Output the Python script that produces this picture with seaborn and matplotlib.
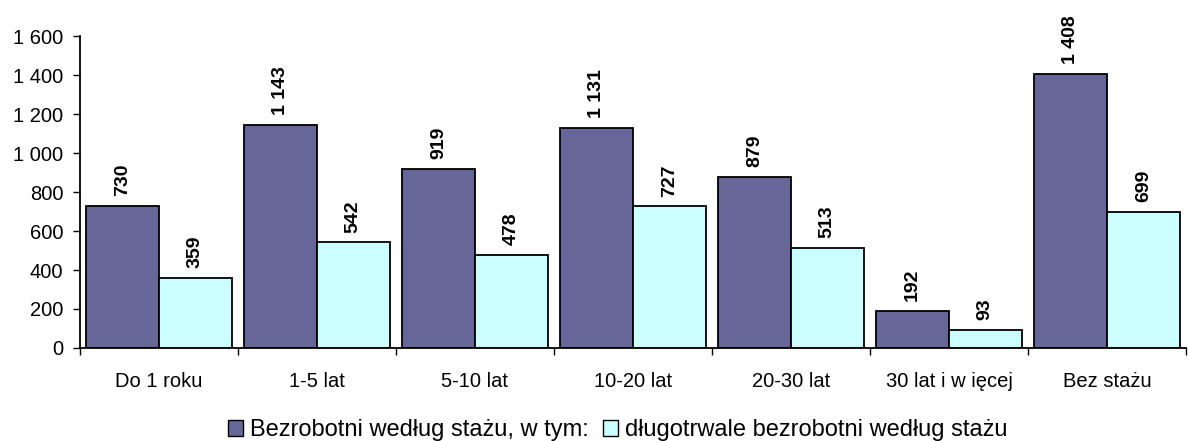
import numpy as np
import pandas as pd
import matplotlib
matplotlib.use("Agg")
import matplotlib.pyplot as plt
from matplotlib.patches import Patch
from matplotlib.ticker import FuncFormatter, FixedLocator
import seaborn as sns

categories = ["Do 1 roku", "1-5 lat", "5-10 lat", "10-20 lat", "20-30 lat", "30 lat i w ięcej", "Bez stażu"]
ogolem = [730, 1143, 919, 1131, 879, 192, 1408]
dlugotrwale = [359, 542, 478, 727, 513, 93, 699]
series_names = ["Bezrobotni według stażu, w tym:", "długotrwale bezrobotni według stażu"]
colors = ["#666699", "#CCFFFF"]

df = pd.DataFrame({
    "staz": categories * 2,
    "liczba": ogolem + dlugotrwale,
    "seria": [series_names[0]] * len(categories) + [series_names[1]] * len(categories),
})

sns.set_style("white")
plt.rcParams['font.family'] = ['Liberation Sans', 'DejaVu Sans']
plt.rcParams['text.color'] = "black"
plt.rcParams['xtick.color'] = "black"
plt.rcParams['ytick.color'] = "black"

fig = plt.figure(figsize=(11.88, 4.41), dpi=100)
ax = fig.add_axes([0.0673, 0.211, 0.931, 0.707])

sns.barplot(data=df, x="staz", y="liczba", hue="seria", palette=colors,
            saturation=1, edgecolor="black", linewidth=1.3, width=0.92, gap=0,
            ax=ax, legend=False)

for cont in ax.containers:
    labels = ["{:,}".format(int(v)).replace(",", " ") for v in cont.datavalues]
    ax.bar_label(cont, labels=labels, rotation=90, padding=7,
                 fontsize=14, fontweight="bold", color="black")

ax.set_ylim(0, 1600)
ax.set_xlim(-0.5, 6.5)
ax.set_yticks(np.arange(0, 1601, 200))
ax.yaxis.set_major_formatter(FuncFormatter(lambda v, p: "{:,}".format(int(v)).replace(",", " ")))
ax.tick_params(axis="y", direction="out", length=5, width=1, labelsize=14.5, pad=7,
               left=True, color="black", labelcolor="black")
ax.tick_params(axis="x", which="major", length=0, labelsize=14.5, pad=17, labelcolor="black")
ax.xaxis.set_minor_locator(FixedLocator(np.arange(-0.5, 7, 1)))
ax.tick_params(axis="x", which="minor", direction="out", length=5, width=1, bottom=True, color="black")
ax.set_xlabel("")
ax.set_ylabel("")
for s in ["top", "right"]:
    ax.spines[s].set_visible(False)
for s in ["left", "bottom"]:
    ax.spines[s].set_color("black")
    ax.spines[s].set_linewidth(1.3)

handles = [Patch(facecolor=c, edgecolor="black", label=n) for c, n in zip(colors, series_names)]
fig.legend(handles=handles, loc="center", bbox_to_anchor=(0.52, 0.024), ncol=2,
           frameon=False, fontsize=17, handlelength=0.65, handleheight=0.65,
           handletextpad=0.3, columnspacing=0.6, labelcolor="black")

fig.savefig("out.png", dpi=100)
